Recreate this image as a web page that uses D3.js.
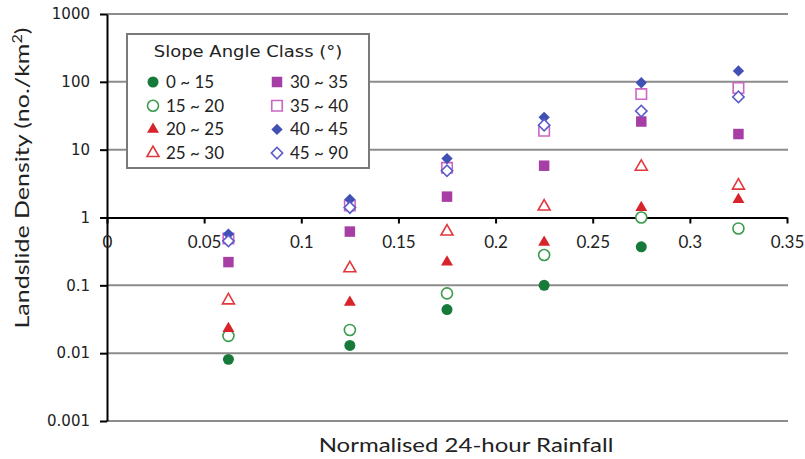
<!DOCTYPE html>
<html>
<head>
<meta charset="utf-8">
<script src="https://cdn.jsdelivr.net/npm/d3@7"></script>
<style>
  body { margin: 0; background: #fff; }
</style>
</head>
<body>
<div id="chart"></div>
<script>
const width = 805;
const height = 459;

// normalised rainfall at each column of points
const rainfall = [0.0625, 0.125, 0.175, 0.225, 0.275, 0.325];

// landslide density (no./km2) per slope angle class
const slope0_15 = [0.0081, 0.013, 0.044, 0.10, 0.37];
const slope15_20 = [0.018, 0.022, 0.076, 0.28, 1.0, 0.69];
const slope20_25 = [0.023, 0.056, 0.22, 0.43, 1.4, 1.84];
const slope25_30 = [0.06, 0.178, 0.62, 1.45, 5.6, 2.95];
const slope30_35 = [0.22, 0.62, 2.03, 5.8, 26, 17];
const slope35_40 = [0.49, 1.5, 5.4, 19, 66, 81];
const slope40_45 = [0.57, 1.85, 7.4, 30, 97, 145];
const slope45_90 = [0.45, 1.4, 4.9, 23, 37, 60];

const xTicks = [0, 0.05, 0.1, 0.15, 0.2, 0.25, 0.3, 0.35];
const yTicks = [0.001, 0.01, 0.1, 1, 10, 100, 1000];

const series = [
  { name: '0 ~ 15', values: slope0_15, shape: 'circle', color: '#187a3a', open: false },
  { name: '15 ~ 20', values: slope15_20, shape: 'circle', color: '#3c9a4c', open: true },
  { name: '20 ~ 25', values: slope20_25, shape: 'triangle', color: '#d9232b', open: false },
  { name: '25 ~ 30', values: slope25_30, shape: 'triangle', color: '#e0383c', open: true },
  { name: '30 ~ 35', values: slope30_35, shape: 'square', color: '#a63ea6', open: false },
  { name: '35 ~ 40', values: slope35_40, shape: 'square', color: '#cc66c4', open: true },
  { name: '40 ~ 45', values: slope40_45, shape: 'diamond', color: '#4150b5', open: false },
  { name: '45 ~ 90', values: slope45_90, shape: 'diamond', color: '#5a5ccc', open: true }
];

const svg = d3.select('#chart')
  .append('svg')
  .attr('width', width)
  .attr('height', height);

const x = d3.scaleLinear().domain([0, 0.35]).range([107, 787]);
const y = d3.scaleLog().domain([0.001, 1000]).range([421, 14]);

// gridlines (the line at 1 is the x axis)
svg.append('g')
  .selectAll('line')
  .data(yTicks.filter(d => d !== 1))
  .enter()
  .append('line')
  .attr('x1', x(0))
  .attr('x2', 788)
  .attr('y1', d => y(d))
  .attr('y2', d => y(d))
  .attr('stroke', '#8c8c8c')
  .attr('stroke-width', 2);

// y axis
const yAxis = svg.append('g')
  .attr('transform', `translate(${x(0)},0)`)
  .call(d3.axisLeft(y).tickValues(yTicks).tickFormat(d3.format('~g')).tickSize(7).tickSizeOuter(0).tickPadding(10));
yAxis.select('.domain').attr('stroke', '#000').attr('stroke-width', 2);
yAxis.selectAll('.tick line').attr('stroke', '#000').attr('stroke-width', 2);
yAxis.selectAll('text')
  .attr('font-family', 'DejaVu Sans, sans-serif')
  .attr('font-size', 15)
  .attr('fill', '#222');

// x axis crossing at density 1
const xAxis = svg.append('g')
  .attr('transform', `translate(0,${y(1)})`)
  .call(d3.axisBottom(x).tickValues(xTicks).tickFormat(d3.format('~g')).tickSize(6).tickSizeOuter(0).tickPadding(12));
xAxis.select('.domain').attr('stroke', '#000').attr('stroke-width', 2);
xAxis.selectAll('.tick line').attr('stroke', '#000').attr('stroke-width', 2);
xAxis.selectAll('text')
  .attr('font-family', 'Lato, sans-serif')
  .attr('font-size', 17)
  .attr('fill', '#222');

// marker path builder
const markerPath = (shape) => {
  if (shape === 'circle') return d3.symbol().type(d3.symbolCircle).size(95)();
  if (shape === 'square') return d3.symbol().type(d3.symbolSquare).size(110)();
  if (shape === 'triangle') return d3.symbol().type(d3.symbolTriangle).size(62)();
  return d3.symbol().type(d3.symbolSquare).size(64)();
};
const markerRotate = shape => shape === 'diamond' ? ' rotate(45)' : '';

const drawMarker = (sel, s) => {
  sel.attr('d', markerPath(s.shape))
    .attr('fill', s.open ? '#fff' : s.color)
    .attr('stroke', s.color)
    .attr('stroke-width', s.open ? 1.6 : 0);
};

// points
series.forEach(s => {
  svg.append('g')
    .selectAll('path')
    .data(s.values)
    .enter()
    .append('path')
    .attr('transform', (d, i) => `translate(${x(rainfall[i])},${y(d)})${markerRotate(s.shape)}`)
    .call(drawMarker, s);
});

// legend
const legend = svg.append('g').attr('transform', 'translate(127,34)');
legend.append('rect')
  .attr('width', 242)
  .attr('height', 134)
  .attr('fill', '#fff')
  .attr('stroke', '#7a7a7a')
  .attr('stroke-width', 2);
legend.append('text')
  .attr('transform', 'translate(121,23) scale(1.2,1)')
  .attr('text-anchor', 'middle')
  .attr('font-family', 'DejaVu Sans, sans-serif')
  .attr('font-size', 15)
  .attr('fill', '#222')
  .text('Slope Angle Class (°)');

const items = legend.selectAll('g.item')
  .data(series)
  .enter()
  .append('g')
  .attr('class', 'item')
  .attr('transform', (d, i) => `translate(${i < 4 ? 26 : 150},${48 + (i % 4) * 23.7})`);
items.append('path')
  .each(function (s) {
    d3.select(this)
      .attr('transform', `translate(0,0)${markerRotate(s.shape)}`)
      .call(drawMarker, s);
  });
items.append('text')
  .attr('x', 13)
  .attr('y', 6)
  .attr('font-family', 'Lato, sans-serif')
  .attr('font-size', 17)
  .attr('fill', '#222')
  .text(d => d.name);

// axis titles
svg.append('text')
  .attr('transform', 'translate(466,452) scale(1.2,1)')
  .attr('text-anchor', 'middle')
  .attr('font-family', 'Lato, sans-serif')
  .attr('font-size', 20)
  .attr('fill', '#222')
  .text('Normalised 24-hour Rainfall');

svg.append('text')
  .attr('transform', 'translate(29,178) rotate(-90) scale(1.25,1)')
  .attr('text-anchor', 'middle')
  .attr('font-family', 'Lato, sans-serif')
  .attr('font-size', 20)
  .attr('fill', '#222')
  .html('Landslide Density (no./km<tspan dy="-7" font-size="13">2</tspan><tspan dy="7">)</tspan>');
</script>
</body>
</html>
